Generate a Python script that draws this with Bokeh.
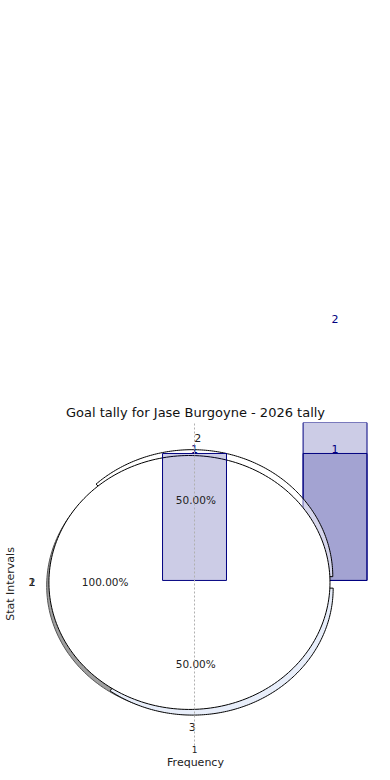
import numpy as np
from bokeh.plotting import figure
from bokeh.models import ColumnDataSource, LabelSet, FixedTicker, Range1d, Title
from bokeh.core.properties import value
from bokeh.embed import file_html
from bokeh.resources import INLINE

# ---------------- data ----------------
title_text = "Goal tally for Jase Burgoyne - 2026 tally"
x_label = "Frequency"
y_label = "Stat Intervals"

bar_x = [1, 2]
bar_total = [1, 2]
bar_part = [0, 1]
bar_label_x = [1, 2]
bar_label_y = [1, 1]
bar_label_text = ["1", "1"]
total_label_text = "2"

pie_shares = [0.37, 0.28, 0.35]
pie_explode = [0.05, 0.0, 0.05]
pct_text = ["50.00%", "100.00%", "50.00%"]
pct_angle = [86, 180, 274]
outer_text = ["2", "1", "2", "3"]
outer_angle = [87, 180, 180, 271]

x_tick_values = [1]
x_tick_labels = ["1"]

# ---------------- layout constants ----------------
PIE_C = (0.964, -0.016)
FONT = "DejaVu Sans"
NAVY = "#000080"
W, H = 374, 772
ML, MR, MT, MB = 22, 6, 422, 27
XR = (-0.224, 2.238)
YR = (-1.30, 1.244)

p = figure(width=W, height=H, output_backend="svg", toolbar_location=None,
           x_range=Range1d(*XR), y_range=Range1d(*YR),
           min_border_left=ML, min_border_right=MR, min_border_top=MT,
           min_border_bottom=MB)
p.outline_line_color = None
p.background_fill_color = "white"

main_title = Title(text=title_text, align="center", text_font=FONT,
                   text_font_size="13px", text_font_style="normal",
                   text_color="#111111", standoff=5)
p.add_layout(main_title, "above")

# axes
p.xaxis.ticker = FixedTicker(ticks=x_tick_values)
p.xaxis.major_label_overrides = {v: t for v, t in zip(x_tick_values, x_tick_labels)}
p.xaxis.axis_line_color = None
p.xaxis.major_tick_line_color = None
p.xaxis.minor_tick_line_color = None
p.xaxis.major_tick_out = 0
p.xaxis.major_label_standoff = 0
p.xaxis.axis_label = x_label
p.xaxis.axis_label_standoff = 0
p.xaxis.axis_label_text_font = FONT
p.xaxis.axis_label_text_font_size = "11px"
p.xaxis.axis_label_text_font_style = "normal"
p.xaxis.axis_label_text_color = "#222222"
p.xaxis.major_label_text_font = FONT
p.xaxis.major_label_text_font_size = "9px"
p.xaxis.major_label_text_color = "#222222"

p.yaxis.ticker = FixedTicker(ticks=[])
p.yaxis.axis_line_color = None
p.yaxis.major_tick_line_color = None
p.yaxis.minor_tick_line_color = None
p.yaxis.major_tick_out = 0
p.yaxis.axis_label = y_label
p.yaxis.axis_label_standoff = 6
p.yaxis.axis_label_text_font = FONT
p.yaxis.axis_label_text_font_size = "11px"
p.yaxis.axis_label_text_font_style = "normal"
p.yaxis.axis_label_text_color = "#222222"

p.ygrid.visible = False
p.xgrid.ticker = FixedTicker(ticks=x_tick_values)
p.xgrid.grid_line_color = "#b0b0b0"
p.xgrid.grid_line_dash = "2 2"
p.xgrid.level = "overlay"

BAR_W = 0.455

# bars behind the pie (x = 2)
back = ColumnDataSource(dict(x=[bar_x[1], bar_x[1]], top=[bar_total[1], bar_part[1]]))
p.vbar(x="x", top="top", bottom=0, width=BAR_W, source=back,
       fill_color=NAVY, fill_alpha=0.2, line_color=NAVY, line_width=1)


def wedge_poly(cx, cy, r, a0, a1, n=160):
    t = np.radians(np.linspace(a0, a1, n))
    xs = np.concatenate([[cx], cx + r * np.cos(t), [cx]])
    ys = np.concatenate([[cy], cy + r * np.sin(t), [cy]])
    return xs, ys


# shadow
t = np.linspace(0, 2 * np.pi, 240)
p.patch(PIE_C[0] - 0.016 + np.cos(t), PIE_C[1] - 0.026 + np.sin(t),
        fill_color="#777777", fill_alpha=0.7, line_color="#555555", line_width=1)

# exploded slices
starts = np.concatenate([[0], np.cumsum(pie_shares)[:-1]]) * 360
ends = np.cumsum(pie_shares) * 360
slice_fill = ["white", None, "#e8eefa"]
slice_alpha = [0.55, 0.0, 1.0]
for s, e, ex, fc, fa in zip(starts, ends, pie_explode, slice_fill, slice_alpha):
    if ex <= 0:
        continue
    mid = np.radians((s + e) / 2)
    cx = PIE_C[0] + ex * np.cos(mid)
    cy = PIE_C[1] + ex * np.sin(mid)
    xs, ys = wedge_poly(cx, cy, 1.0, s, e)
    p.patch(xs, ys, fill_color=fc, fill_alpha=fa, line_color="black", line_width=1)

# main disc
p.patch(PIE_C[0] + np.cos(t), PIE_C[1] + np.sin(t),
        fill_color="white", fill_alpha=1.0, line_color="black", line_width=1)

# bar in front of the pie (x = 1)
front = ColumnDataSource(dict(x=[bar_x[0]], top=[bar_total[0]]))
p.vbar(x="x", top="top", bottom=0, width=BAR_W, source=front,
       fill_color=NAVY, fill_alpha=0.2, line_color=NAVY, line_width=1)

# percent labels
pa = np.radians(pct_angle)
pr = [0.655, 0.60, 0.64]
pct_src = ColumnDataSource(dict(
    x=PIE_C[0] + np.array(pr) * np.cos(pa),
    y=PIE_C[1] + np.array(pr) * np.sin(pa),
    text=pct_text))
p.add_layout(LabelSet(x="x", y="y", text="text", source=pct_src,
                      text_align="center", text_baseline="middle",
                      text_font=value(FONT), text_font_size="10.5px",
                      text_color="#222222"))

# outer pie labels
oa = np.radians(outer_angle)
outer_src = ColumnDataSource(dict(
    x=PIE_C[0] + 1.12 * np.cos(oa),
    y=PIE_C[1] + 1.14 * np.sin(oa),
    text=outer_text))
p.add_layout(LabelSet(x="x", y="y", text="text", source=outer_src,
                      text_align="center", text_baseline="middle",
                      text_font=value(FONT), text_font_size="11px",
                      text_color="#222222"))

# bar value labels
bl_src = ColumnDataSource(dict(x=bar_label_x, y=bar_label_y, text=bar_label_text))
p.add_layout(LabelSet(x="x", y="y", text="text", source=bl_src,
                      text_align="center", text_baseline="alphabetic",
                      text_font=value(FONT), text_font_size="11px",
                      text_color=NAVY))

# total label of the x=2 bar lies above the frame: place it as an extra title
frame_w = W - ML - MR
x_px = (bar_x[1] - XR[0]) / (XR[1] - XR[0]) * frame_w
p.add_layout(Title(text=total_label_text, align="left", offset=x_px - 3.5,
                   text_font=FONT, text_font_size="11px", text_font_style="normal",
                   text_color=NAVY, standoff=155), "above")

open("out.html", "w").write(file_html(p, INLINE))
